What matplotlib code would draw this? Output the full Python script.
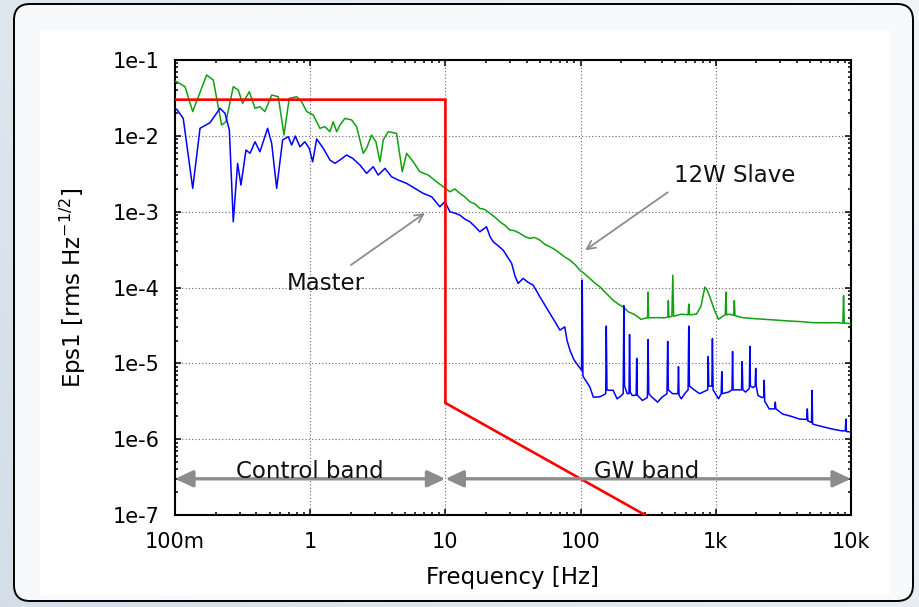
import numpy as np
import matplotlib
matplotlib.use("Agg")
import matplotlib.pyplot as plt
from matplotlib.patches import FancyBboxPatch, Rectangle, FancyArrowPatch
from matplotlib.ticker import LogLocator, NullFormatter

plt.rcParams['font.family'] = ['DejaVu Sans']

# ---------------- data (log10 values) ----------------
green_logf = [-1.0, -0.987, -0.926, -0.869, -0.766, -0.717, -0.655, -0.623, -0.569, -0.532,
              -0.5, -0.45, -0.408, -0.372, -0.335, -0.285, -0.236, -0.194, -0.155, -0.1,
              -0.063, -0.026, 0.023, 0.072, 0.109, 0.146, 0.17, 0.196, 0.22, 0.257,
              0.306, 0.343, 0.392, 0.417, 0.454, 0.486, 0.516, 0.54, 0.577, 0.639,
              0.681, 0.713, 0.762, 0.811, 0.873, 0.935, 0.984, 1.033, 1.07, 1.107,
              1.14, 1.181, 1.22, 1.255, 1.29, 1.329, 1.365, 1.403, 1.44, 1.477,
              1.51, 1.551, 1.59, 1.625, 1.66, 1.699, 1.735, 1.773, 1.81, 1.847,
              1.885, 1.921, 1.96, 1.994, 2.03, 2.068, 2.105, 2.142, 2.18, 2.216,
              2.244, 2.29, 2.32, 2.352, 2.394, 2.426, 2.445, 2.49, 2.495, 2.499,
              2.503, 2.57, 2.62, 2.645, 2.649, 2.653, 2.675, 2.682, 2.688, 2.745,
              2.795, 2.8, 2.805, 2.857, 2.89, 2.919, 2.935, 2.957, 2.99, 3.02,
              3.05, 3.07, 3.075, 3.08, 3.107, 3.132, 3.137, 3.142, 3.195, 3.28,
              3.37, 3.45, 3.545, 3.63, 3.72, 3.80, 3.895, 3.94, 3.945, 3.95, 4.0]
green_logv = [-1.28, -1.286, -1.352, -1.68, -1.198, -1.264, -1.858, -1.814, -1.352, -1.396,
              -1.571, -1.418, -1.637, -1.616, -1.68, -1.462, -1.484, -1.989, -1.506, -1.484,
              -1.55, -1.68, -1.726, -1.901, -1.88, -1.946, -1.814, -1.946, -1.858, -1.77,
              -1.79, -1.88, -2.23, -2.165, -1.99, -2.078, -2.342, -2.055, -1.946, -1.967,
              -2.474, -2.23, -2.342, -2.474, -2.517, -2.606, -2.671, -2.737, -2.70, -2.759,
              -2.80, -2.869, -2.90, -2.957, -2.97, -3.022, -3.07, -3.133, -3.18, -3.243,
              -3.25, -3.286, -3.33, -3.352, -3.34, -3.375, -3.43, -3.463, -3.50, -3.55,
              -3.60, -3.639, -3.70, -3.77, -3.82, -3.88, -3.94, -3.99, -4.06, -4.123,
              -4.174, -4.232, -4.262, -4.32, -4.352, -4.39, -4.42, -4.40, -4.40, -4.062,
              -4.40, -4.397, -4.40, -4.39, -4.174, -4.39, -4.38, -3.839, -4.38, -4.352,
              -4.36, -4.219, -4.36, -4.352, -4.25, -3.995, -4.03, -4.129, -4.30, -4.42,
              -4.38, -4.36, -4.062, -4.36, -4.352, -4.37, -4.174, -4.37, -4.397, -4.41,
              -4.42, -4.43, -4.442, -4.45, -4.464, -4.465, -4.464, -4.47, -4.107, -4.47, -4.476]

blue_logf = [-1.0, -0.987, -0.939, -0.869, -0.815, -0.741, -0.667, -0.63, -0.598, -0.569,
             -0.537, -0.512, -0.475, -0.445, -0.408, -0.372, -0.315, -0.285, -0.248, -0.204,
             -0.162, -0.137, -0.11, -0.076, -0.039, -0.007, 0.018, 0.048, 0.097, 0.146,
             0.183, 0.22, 0.269, 0.314, 0.368, 0.417, 0.466, 0.503, 0.553, 0.602,
             0.651, 0.713, 0.775, 0.836, 0.898, 0.959, 0.996, 1.033, 1.07, 1.107,
             1.145, 1.181, 1.22, 1.255, 1.304, 1.33, 1.354, 1.39, 1.427, 1.46,
             1.49, 1.515, 1.538, 1.575, 1.61, 1.649, 1.675, 1.699, 1.735, 1.773,
             1.81, 1.847, 1.883, 1.90, 1.921, 1.95, 1.97, 2.007, 2.012, 2.017,
             2.02, 2.068, 2.094, 2.142, 2.186, 2.19, 2.195, 2.219, 2.24, 2.27,
             2.29, 2.315, 2.32, 2.325, 2.345, 2.358, 2.362, 2.367, 2.382, 2.411,
             2.415, 2.42, 2.457, 2.494, 2.499, 2.504, 2.53, 2.57, 2.60, 2.639,
             2.644, 2.649, 2.68, 2.72, 2.724, 2.728, 2.745, 2.77, 2.795, 2.8,
             2.805, 2.845, 2.88, 2.94, 2.944, 2.948, 2.971, 2.975, 2.98, 3.02,
             3.04, 3.044, 3.048, 3.094, 3.12, 3.124, 3.128, 3.16, 3.19, 3.195,
             3.2, 3.22, 3.248, 3.252, 3.256, 3.275, 3.291, 3.295, 3.299, 3.312,
             3.34, 3.354, 3.358, 3.362, 3.395, 3.436, 3.44, 3.444, 3.495, 3.56,
             3.62, 3.673, 3.677, 3.681, 3.708, 3.712, 3.716, 3.744, 3.80, 3.869,
             3.93, 3.958, 3.962, 3.966, 4.0]
blue_logv = [-1.64, -1.65, -1.77, -2.693, -1.901, -1.827, -1.637, -1.703, -1.923, -3.133,
             -2.363, -2.649, -2.187, -2.23, -2.078, -2.21, -1.901, -2.099, -2.693, -2.055,
             -2.012, -2.121, -2.003, -2.144, -2.078, -2.165, -2.342, -2.042, -2.165, -2.319,
             -2.363, -2.319, -2.253, -2.297, -2.385, -2.495, -2.407, -2.517, -2.429, -2.54,
             -2.583, -2.627, -2.693, -2.759, -2.803, -2.935, -2.869, -3.0, -3.02, -3.045,
             -3.10, -3.133, -3.20, -3.265, -3.199, -3.33, -3.397, -3.45, -3.507, -3.60,
             -3.682, -3.85, -3.946, -3.88, -3.93, -3.968, -4.05, -4.123, -4.23, -4.342,
             -4.45, -4.562, -4.519, -4.70, -4.826, -4.95, -5.002, -5.09, -3.902, -5.15,
             -5.178, -5.31, -5.446, -5.442, -5.40, -4.509, -5.35, -5.356, -5.354, -5.468,
             -5.442, -5.40, -4.24, -5.30, -5.40, -5.40, -4.62, -5.38, -5.424, -5.42,
             -4.933, -5.42, -5.49, -5.45, -4.687, -5.40, -5.45, -5.512, -5.45, -5.40,
             -4.71, -5.35, -5.40, -5.40, -5.044, -5.42, -5.468, -5.40, -5.35, -4.509,
             -5.30, -5.356, -5.40, -5.35, -4.911, -5.30, -5.30, -4.674, -5.35, -5.468,
             -5.40, -5.11, -5.40, -5.379, -5.35, -4.844, -5.35, -5.35, -5.35, -4.977,
             -5.35, -5.379, -5.33, -4.775, -5.30, -5.32, -5.30, -5.066, -5.30, -5.424,
             -5.45, -5.45, -5.223, -5.50, -5.601, -5.60, -5.512, -5.60, -5.669, -5.70,
             -5.735, -5.74, -5.601, -5.76, -5.78, -5.356, -5.80, -5.815, -5.84, -5.869,
             -5.89, -5.89, -5.735, -5.90, -5.905]

red_f = [0.1, 10, 10, 1000]
red_v = [3e-2, 3e-2, 3e-6, 3e-8]

xtick_vals = [0.1, 1, 10, 100, 1000, 10000]
xtick_labels = ["100m", "1", "10", "100", "1k", "10k"]
ytick_vals = [1e-1, 1e-2, 1e-3, 1e-4, 1e-5, 1e-6, 1e-7]
ytick_labels = ["1e-1", "1e-2", "1e-3", "1e-4", "1e-5", "1e-6", "1e-7"]

band_level = 3e-7
band_edges = [0.1, 10, 10000]
band_names = ["Control band", "GW band"]
band_text_f = [1.0, 309]

# ---------------- figure ----------------
W, H = 919, 607
fig = plt.figure(figsize=(W / 100, H / 100), dpi=100)

bg = fig.add_axes([0, 0, 1, 1], zorder=-5)
bg.set_xlim(0, W)
bg.set_ylim(H, 0)
bg.axis('off')
gx = np.linspace(0, 1, 200)
gy = np.linspace(0, 1, 200)
GX, GY = np.meshgrid(gx, gy)
t = np.clip(0.65 * GX + 0.35 * (1 - GY), 0, 1)
c0 = np.array([0.83, 0.87, 0.91])
c1 = np.array([0.95, 0.965, 0.975])
img = c0[None, None, :] * (1 - t[..., None]) + c1[None, None, :] * t[..., None]
bg.imshow(img, extent=[0, W, H, 0], aspect='auto', zorder=0)
bg.add_patch(FancyBboxPatch((14, 4), 899, 597, boxstyle="round,pad=0,rounding_size=16",
                            facecolor='#f7f9fb', edgecolor='black', lw=1.4, zorder=1))
bg.add_patch(Rectangle((40, 30), 850, 565, facecolor='white', edgecolor='none', zorder=2))

ax = fig.add_axes([175 / W, 1 - 515 / H, 676 / W, 455 / H], zorder=1)
ax.set_facecolor('white')
ax.set_xscale('log')
ax.set_yscale('log')
ax.set_xlim(0.1, 10000)
ax.set_ylim(1e-7, 1e-1)

ax.plot(10 ** np.array(green_logf), 10 ** np.array(green_logv), color='#10a010', lw=1.1, zorder=3)
ax.plot(10 ** np.array(blue_logf), 10 ** np.array(blue_logv), color='#0000ff', lw=1.1, zorder=4)
ax.plot(red_f, red_v, color='#ff0000', lw=1.9, zorder=5, solid_joinstyle='miter')

ax.set_xticks(xtick_vals)
ax.set_xticklabels(xtick_labels)
ax.set_yticks(ytick_vals)
ax.set_yticklabels(ytick_labels)
ax.xaxis.set_minor_locator(LogLocator(base=10, subs=np.arange(2, 10), numticks=20))
ax.yaxis.set_minor_locator(LogLocator(base=10, subs=np.arange(2, 10), numticks=20))
ax.xaxis.set_minor_formatter(NullFormatter())
ax.yaxis.set_minor_formatter(NullFormatter())
ax.tick_params(which='both', direction='in', top=True, right=True, width=1.1, color='black')
ax.tick_params(which='major', length=4.5, labelsize=15)
ax.tick_params(which='minor', length=2.3)
ax.tick_params(axis='x', which='major', pad=12.5)
ax.tick_params(axis='y', which='major', pad=11)
for s in ax.spines.values():
    s.set_linewidth(1.5)
ax.grid(which='major', color='#666666', linestyle=(0, (1, 2)), lw=0.8)

ax.set_xlabel("Frequency [Hz]", fontsize=16.5)
ax.xaxis.set_label_coords(0.5, -0.113)
ax.set_ylabel("Eps1 [rms Hz$^{-1/2}$]", fontsize=16.5)
ax.yaxis.set_label_coords(-0.129, 0.5)

# band arrows
for i in range(2):
    arr = FancyArrowPatch((band_edges[i], band_level), (band_edges[i + 1], band_level),
                          arrowstyle='<|-|>,head_length=0.6,head_width=0.28', mutation_scale=18,
                          color='#8c8c8c', lw=2.4, shrinkA=0, shrinkB=0, zorder=6, clip_on=False)
    ax.add_patch(arr)
    ax.text(band_text_f[i], band_level * 1.04, band_names[i], ha='center', va='baseline',
            fontsize=16.5, color='#111111', zorder=7)

# annotations
ax.annotate('', xy=(7.05, 9.6e-4), xytext=(2.0, 1.98e-4),
            arrowprops=dict(arrowstyle='->,head_length=0.6,head_width=0.3', color='#8c8c8c', lw=1.3,
                            shrinkA=0, shrinkB=0), zorder=6)
ax.text(1.31, 1.14e-4, "Master", ha='center', va='center', fontsize=16.5, color='#111111', zorder=7)
ax.annotate('', xy=(108, 3.1e-4), xytext=(441, 1.8e-3),
            arrowprops=dict(arrowstyle='->,head_length=0.6,head_width=0.3', color='#8c8c8c', lw=1.3,
                            shrinkA=0, shrinkB=0), zorder=6)
ax.text(1380, 3.04e-3, "12W Slave", ha='center', va='center', fontsize=16.5, color='#111111', zorder=7)

fig.savefig("out.png", dpi=100)
